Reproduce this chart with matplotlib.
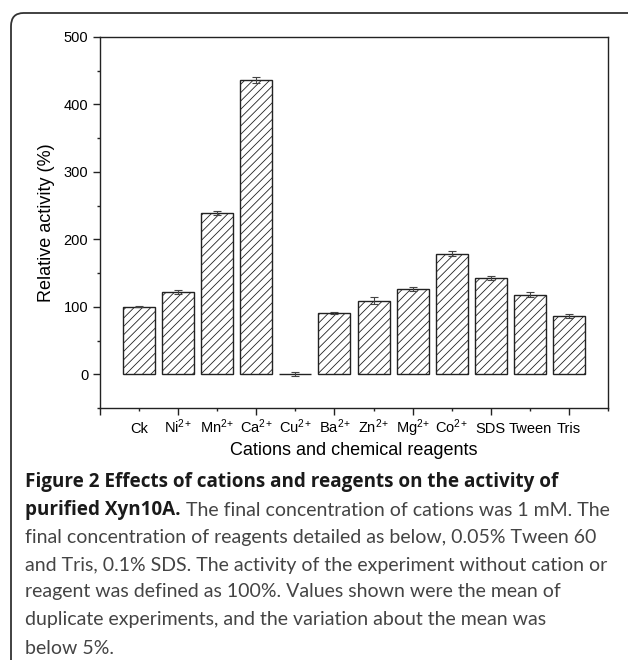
import numpy as np
import matplotlib
matplotlib.use('Agg')
import matplotlib.pyplot as plt
from matplotlib.patches import FancyBboxPatch
from matplotlib.ticker import MultipleLocator, FixedLocator

categories = ['Ck', 'Ni$^{2}$$^{+}$', 'Mn$^{2}$$^{+}$', 'Ca$^{2}$$^{+}$', 'Cu$^{2}$$^{+}$',
              'Ba$^{2}$$^{+}$', 'Zn$^{2}$$^{+}$', 'Mg$^{2}$$^{+}$', 'Co$^{2}$$^{+}$',
              'SDS', 'Tween', 'Tris']
activity = [100, 122, 239, 436, 0, 91, 109, 126, 179, 143, 118, 87]
errors = [0.5, 3, 3, 4, 3, 2, 5, 3, 4, 3, 4, 3]

caption_bold = ['Figure 2 Effects of cations and reagents on the activity of',
                'purified Xyn10A.']
caption_rest = [' The final concentration of cations was 1 mM. The',
                'final concentration of reagents detailed as below, 0.05% Tween 60',
                'and Tris, 0.1% SDS. The activity of the experiment without cation or',
                'reagent was defined as 100%. Values shown were the mean of',
                'duplicate experiments, and the variation about the mean was',
                'below 5%.']

plt.rcParams['font.family'] = ['Liberation Sans', 'DejaVu Sans']
plt.rcParams['mathtext.default'] = 'regular'
plt.rcParams['hatch.linewidth'] = 0.6
plt.rcParams['hatch.color'] = '#666666'

W, H = 628, 660
fig = plt.figure(figsize=(W / 100, H / 100), dpi=100)

# rounded frame round the whole figure (runs off right and bottom)
frame = FancyBboxPatch((11 / W, -0.1), 1.2, 1 - 13 / H + 0.1,
                       boxstyle='round,pad=0,rounding_size=0.02',
                       transform=fig.transFigure, fill=False,
                       edgecolor='#333333', linewidth=1.3)
fig.patches.append(frame)

ax = fig.add_axes([100 / W, 1 - 408 / H, 508 / W, 371 / H])
x = np.arange(1, len(activity) + 1)
ax.bar(x, activity, width=0.82, color='white', edgecolor='#222222',
       linewidth=1.0, hatch='////', zorder=2)
ax.errorbar(x, activity, yerr=errors, fmt='none', ecolor='#444444',
            elinewidth=0.8, capsize=3, capthick=0.8, zorder=3)

ax.set_xlim(0, 13)
ax.set_ylim(-50, 500)
ax.yaxis.set_major_locator(MultipleLocator(100))
ax.yaxis.set_minor_locator(MultipleLocator(50))
ax.xaxis.set_major_locator(FixedLocator(np.arange(0, 14)))
ax.set_xticklabels([''] + categories + [''])
ax.tick_params(axis='both', which='major', direction='out', length=5,
               width=1.0, labelsize=10.5, color='#222222')
ax.tick_params(axis='y', which='minor', direction='out', length=2.5,
               width=1.0, color='#222222')
ax.tick_params(axis='x', pad=13)
for lab in ax.get_xticklabels():
    lab.set_verticalalignment('baseline')
# long ticks at even positions, short ones between
for i, tk in enumerate(ax.xaxis.get_major_ticks()):
    tk.tick1line.set_markersize(5 if i % 2 == 0 else 2.5)
for sp in ax.spines.values():
    sp.set_linewidth(1.0)
    sp.set_color('#222222')

ax.set_xlabel('Cations and chemical reagents', fontsize=13, labelpad=2)
ax.set_ylabel('Relative activity (%)', fontsize=13, labelpad=6)

# caption
fs = 14.0
cfont = 'Lato'
bfont = 'Open Sans'
bfs = 13.6
x0 = 25 / W
ys = [482, 510, 537, 565, 592, 620, 648]
fig.canvas.draw()
r = fig.canvas.get_renderer()
fig.text(x0, 1 - ys[0] / H, caption_bold[0], fontsize=bfs, family=bfont,
         weight='bold', color='#1a1a1a', va='center')
t = fig.text(x0, 1 - ys[1] / H, caption_bold[1], fontsize=bfs, family=bfont,
             weight='bold', color='#1a1a1a', va='center')
bb = t.get_window_extent(renderer=r)
fig.text(bb.x1 / W, 1 - ys[1] / H, caption_rest[0], fontsize=fs, family=cfont,
         color='#444444', va='center')
for line, y in zip(caption_rest[1:], ys[2:]):
    fig.text(x0, 1 - y / H, line, fontsize=fs, family=cfont,
             color='#444444', va='center')

fig.savefig('out.png', dpi=100)
